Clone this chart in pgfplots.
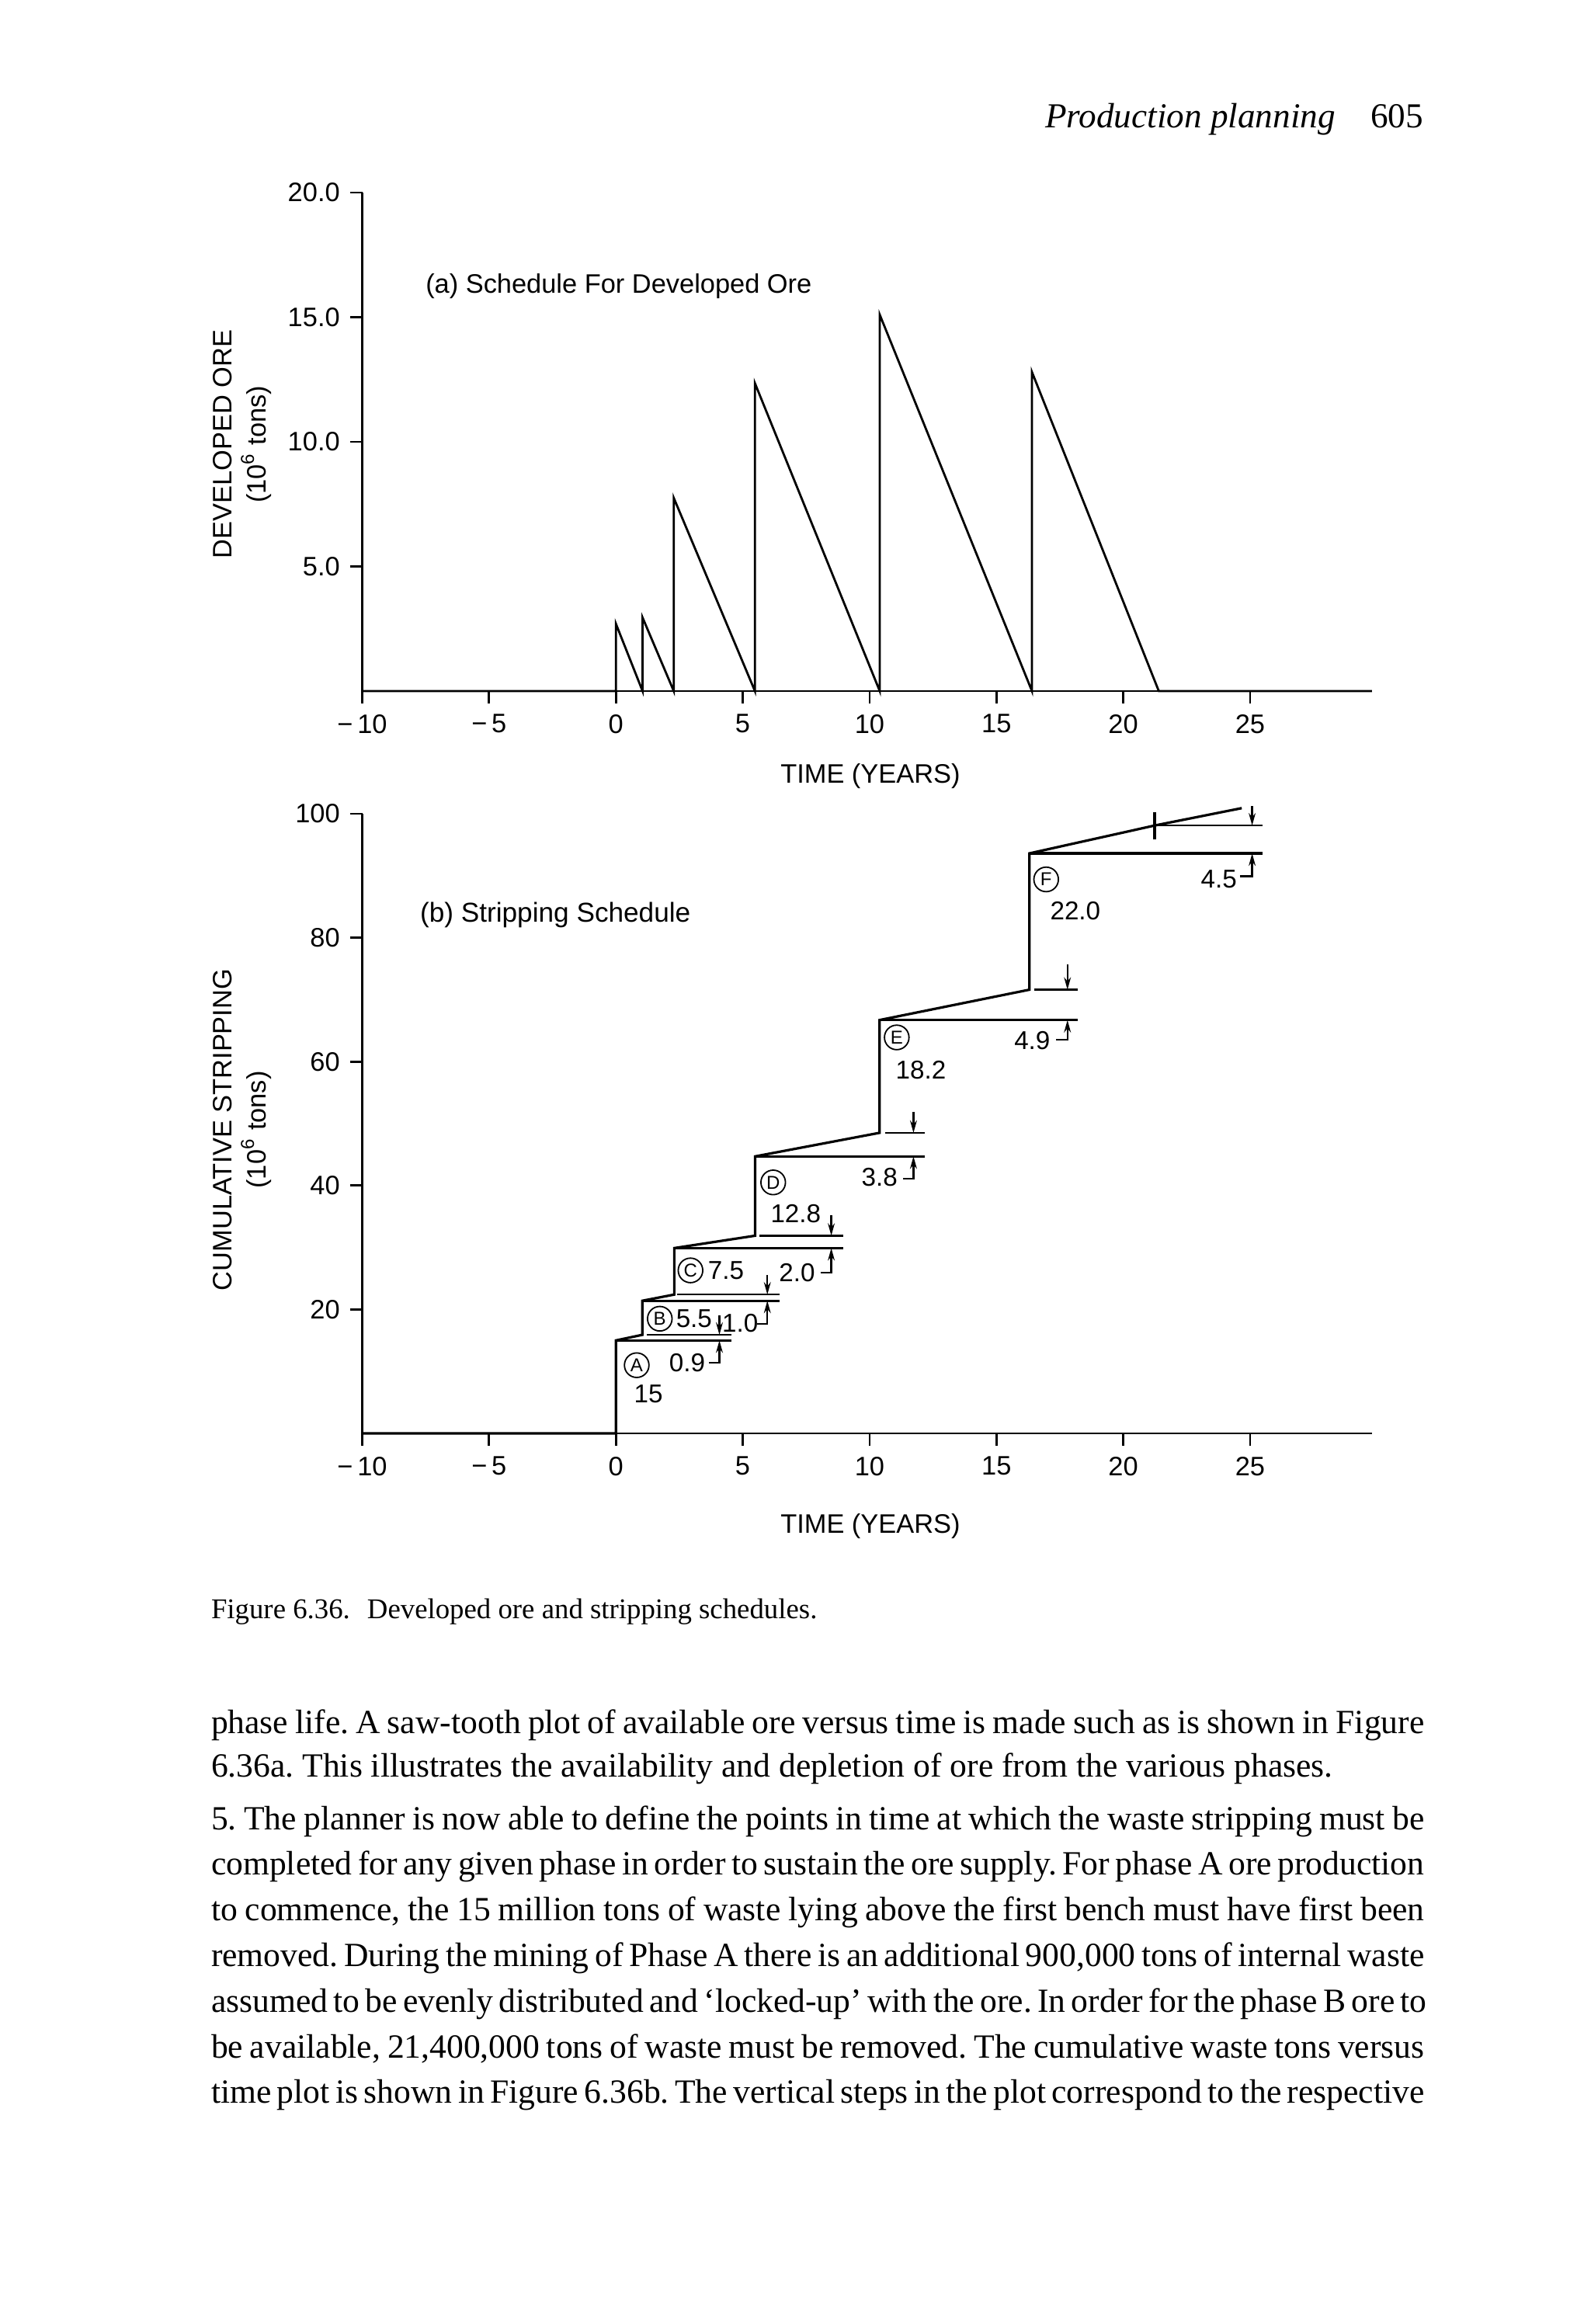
\documentclass[border=0pt]{standalone}
\usepackage{fontspec}
\setmainfont{Liberation Serif}
\newfontfamily\arialf{Liberation Sans}
\usepackage{pgfplots}
\pgfplotsset{compat=1.18}
\usetikzlibrary{arrows.meta}

\newcommand\cf{\arialf\fontsize{8.6}{11}\selectfont}
\newcommand\af{\arialf\fontsize{8.3}{10}\selectfont}
\newcommand\bodyf{\fontsize{10.9}{14.7}\selectfont\frenchspacing}
\newcommand\bline[2]{\node[anchor=base west, inner sep=0] at (67.8pt,#1) {\bodyf\makebox[390.6pt][s]{#2}};}
\newcommand\lline[2]{\node[anchor=base west, inner sep=0] at (67.8pt,#1) {\bodyf #2};}

% dimension marker: t, step top, slope end, arrow start, hook level, hook left end
\newcommand\dimmark[6]{%
  \draw[line width=0.6pt, -{Stealth[length=4pt,width=2.2pt]}] (axis cs:#1,#4) -- (axis cs:#1,#3);
  \draw[line width=0.6pt, -{Stealth[length=4pt,width=2.2pt]}] (axis cs:#6,#5) -- (axis cs:#1,#5) -- (axis cs:#1,#2);
}
\newcommand\phase[2]{\node[draw, circle, line width=0.45pt, inner sep=0pt, minimum size=7.9pt,
  font=\arialf\fontsize{6}{6}\selectfont] at (axis cs:#1) {#2};}

\pgfplotsset{
  pageaxis/.style={
    anchor=origin, x=8.1675pt, xmin=-10, xmax=29.8, ymin=0,
    axis x line=bottom, axis y line=left,
    axis line style={-, line width=0.7pt},
    tick style={black, line width=0.7pt},
    tick align=outside, major tick length=4pt,
    xtick={-10,-5,0,5,10,15,20,25},
    xticklabels={−\,10,−\,5,0,5,10,15,20,25},
    tick label style={font=\cf},
    yticklabel style={inner sep=3pt},
    clip=false,
  }
}

\begin{document}
\begin{tikzpicture}
\useasboundingbox (0,0) rectangle (512pt,748.25pt);

% running head
\node[anchor=base east, inner sep=0] at (458.4pt,707pt)
  {\fontsize{11.3}{13}\selectfont\textit{Production planning}\hspace{1em}605};

% (a) developed ore
\begin{axis}[pageaxis, at={(198.3pt,525.75pt)}, y=8.025pt, ymax=20,
  ytick={5,10,15,20}, yticklabels={5.0,10.0,15.0,20.0}]
\addplot[line width=0.7pt] coordinates {
  (-10,0) (0,0) (0,2.7) (1.05,0) (1.05,2.95) (2.28,0) (2.28,7.75) (5.48,0)
  (5.48,12.35) (10.4,0) (10.4,15.1) (16.4,0) (16.4,12.8) (21.4,0) (29.8,0)
};
\node[anchor=west, font=\cf] at (axis cs:-7.93,16.25) {(a) Schedule For Developed Ore};
\node[rotate=90, align=center, font=\cf] at (axis cs:-14.73,9.9)
  {DEVELOPED ORE\\(10\textsuperscript{6} tons)};
\node[font=\cf] at (axis cs:10.03,-3.4) {TIME (YEARS)};
\end{axis}

% (b) cumulative stripping
\begin{axis}[pageaxis, at={(198.3pt,286.75pt)}, y=1.995pt, ymax=100,
  ytick={20,40,60,80,100}, yticklabels={20,40,60,80,100}]
\addplot[line width=0.8pt] coordinates {
  (-10,0) (0,0) (0,15.0) (1.04,15.9) (1.04,21.4) (2.3,22.4) (2.3,29.9)
  (5.49,31.9) (5.49,44.7) (10.39,48.5) (10.39,66.7) (16.3,71.6) (16.3,93.6)
  (21.24,98.1) (24.67,100.9)
};
% reference lines at each step
\addplot[line width=0.75pt] coordinates {(0,15.0) (4.54,15.0)};
\addplot[line width=0.6pt] coordinates {(1.22,15.9) (4.54,15.9)};
\addplot[line width=0.75pt] coordinates {(1.04,21.4) (6.45,21.4)};
\addplot[line width=0.6pt] coordinates {(2.4,22.4) (6.45,22.4)};
\addplot[line width=0.75pt] coordinates {(2.3,29.9) (8.96,29.9)};
\addplot[line width=0.6pt] coordinates {(5.66,31.9) (8.96,31.9)};
\addplot[line width=0.75pt] coordinates {(5.49,44.7) (12.17,44.7)};
\addplot[line width=0.6pt] coordinates {(10.6,48.5) (12.17,48.5)};
\addplot[line width=0.75pt] coordinates {(10.39,66.7) (18.21,66.7)};
\addplot[line width=0.7pt] coordinates {(16.48,71.6) (18.21,71.6)};
\addplot[line width=0.85pt] coordinates {(16.3,93.6) (25.49,93.6)};
\addplot[line width=0.5pt] coordinates {(21.33,98.1) (25.49,98.1)};
\addplot[line width=0.9pt] coordinates {(21.24,95.8) (21.24,100.2)};
\dimmark{4.08}{15.0}{15.9}{19.1}{11.4}{3.67}
\dimmark{5.97}{21.4}{22.4}{25.5}{17.7}{5.56}
\dimmark{8.49}{29.9}{31.9}{35.2}{25.9}{8.06}
\dimmark{11.73}{44.7}{48.5}{51.9}{41.1}{11.33}
\dimmark{17.8}{66.7}{71.6}{75.7}{63.5}{17.35}
\dimmark{25.08}{93.6}{98.1}{101.2}{89.9}{24.6}
\phase{0.82,11.0}{A}
\phase{1.73,18.5}{B}
\phase{2.94,26.3}{C}
\phase{6.2,40.5}{D}
\phase{11.07,63.9}{E}
\phase{16.96,89.4}{F}
\node[font=\af] at (axis cs:1.28,6.4) {15};
\node[font=\af] at (axis cs:2.81,11.4) {0.9};
\node[font=\af] at (axis cs:3.08,18.5) {5.5};
\node[font=\af] at (axis cs:4.9,17.8) {1.0};
\node[font=\af] at (axis cs:4.34,26.3) {7.5};
\node[font=\af] at (axis cs:7.14,25.9) {2.0};
\node[font=\af] at (axis cs:7.09,35.4) {12.8};
\node[font=\af] at (axis cs:10.39,41.3) {3.8};
\node[font=\af] at (axis cs:12.02,58.6) {18.2};
\node[font=\af] at (axis cs:16.41,63.4) {4.9};
\node[font=\af] at (axis cs:18.11,84.3) {22.0};
\node[font=\af] at (axis cs:23.77,89.5) {4.5};
\node[anchor=west, font=\arialf\fontsize{8.8}{11}\selectfont] at (axis cs:-8.15,83.6) {(b) Stripping Schedule};
\node[rotate=90, align=center, font=\cf] at (axis cs:-14.73,49)
  {CUMULATIVE STRIPPING\\(10\textsuperscript{6} tons)};
\node[font=\cf] at (axis cs:10.03,-15.0) {TIME (YEARS)};
\end{axis}

% caption
\node[anchor=base west, inner sep=0] at (67.8pt,227.2pt)
  {\fontsize{9.2}{11}\selectfont\frenchspacing Figure 6.36.\hspace{0.6em}Developed ore and stripping schedules.};

% body text
\bline{190.2pt}{phase life. A saw-tooth plot of available ore versus time is made such as is shown in Figure}
\lline{176.2pt}{6.36a. This illustrates the availability and depletion of ore from the various phases.}
\bline{159.2pt}{5. The planner is now able to define the points in time at which the waste stripping must be}
\bline{144.5pt}{completed for any given phase in order to sustain the ore supply. For phase A ore production}
\bline{129.8pt}{to commence, the 15 million tons of waste lying above the first bench must have first been}
\bline{115.1pt}{removed. During the mining of Phase A there is an additional 900,000 tons of internal waste}
\bline{100.4pt}{assumed to be evenly distributed and ‘locked-up’ with the ore. In order for the phase B ore to}
\bline{85.7pt}{be available, 21,400,000 tons of waste must be removed. The cumulative waste tons versus}
\bline{71pt}{time plot is shown in Figure 6.36b. The vertical steps in the plot correspond to the respective}
\end{tikzpicture}
\end{document}
